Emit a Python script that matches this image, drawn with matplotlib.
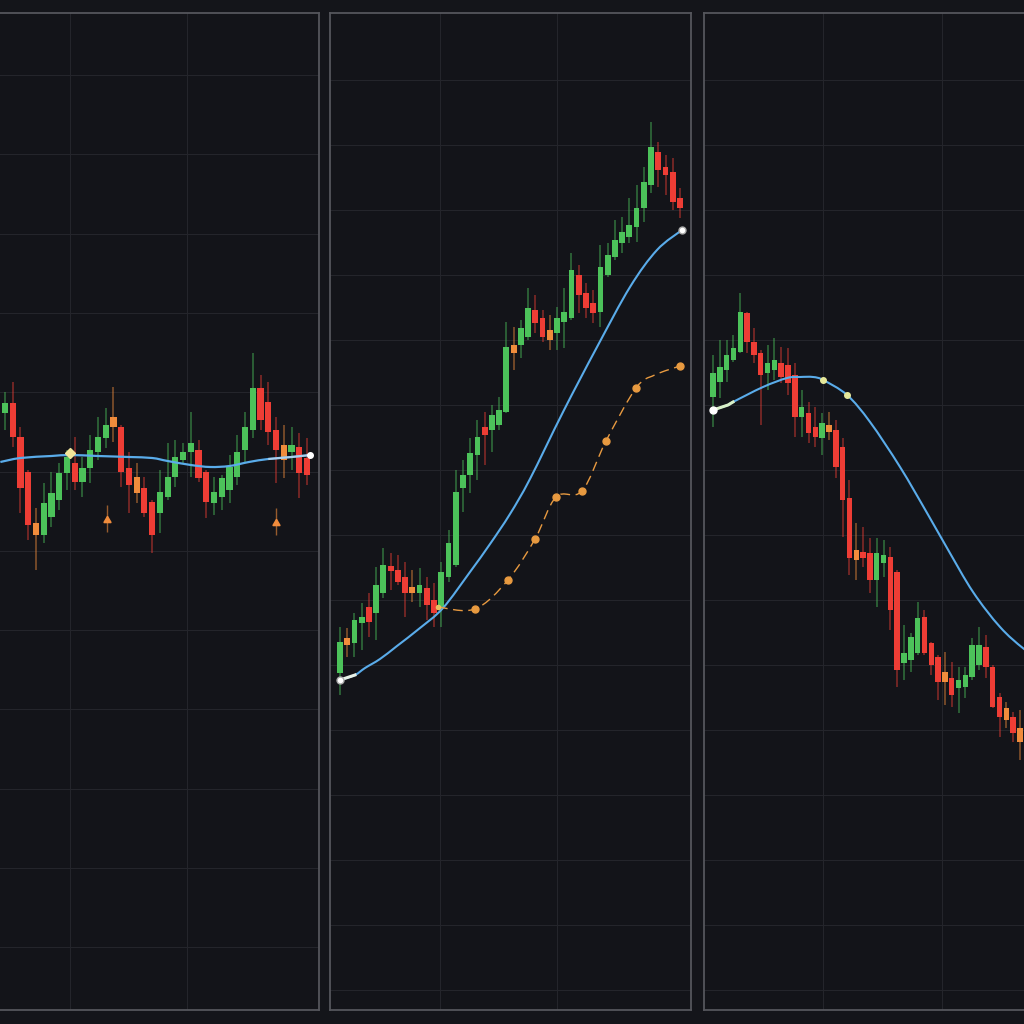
import matplotlib
matplotlib.use("Agg")
import matplotlib.pyplot as plt
from matplotlib.path import Path
from matplotlib.patches import PathPatch
import numpy as np

# ---- data (price units, candle index on x) ----
# panel 1 : sideways
p1_open  = [59.7, 60.7, 57.3, 53.8, 48.7, 47.5, 49.3, 51.0, 53.7, 54.7, 52.8, 54.2, 55.8, 57.2, 58.3, 58.3, 54.2, 53.3, 52.2, 50.8,
            49.7, 51.3, 53.3, 55.0, 55.8, 56.0, 53.8, 50.7, 51.3, 52.0, 53.3, 56.0, 58.0, 62.2, 60.8, 58.0, 56.5, 55.8, 56.3, 55.2]
p1_high  = [61.8, 62.8, 58.3, 54.0, 50.2, 52.7, 53.8, 54.7, 56.0, 57.3, 55.3, 57.5, 59.3, 60.2, 62.3, 58.5, 55.8, 54.7, 53.3, 51.0,
            54.0, 56.7, 57.0, 56.7, 59.8, 57.0, 54.0, 53.3, 53.5, 55.5, 57.5, 59.8, 65.7, 63.5, 62.8, 59.3, 58.5, 58.3, 57.7, 57.2]
p1_low   = [58.0, 56.3, 49.7, 47.0, 44.0, 46.7, 48.3, 50.0, 52.0, 52.0, 51.3, 52.7, 55.0, 56.2, 56.8, 52.3, 49.7, 50.7, 49.3, 45.7,
            47.7, 51.0, 52.3, 54.7, 53.3, 52.8, 49.2, 49.5, 50.0, 50.7, 52.5, 54.8, 57.2, 58.0, 56.5, 52.7, 53.2, 54.0, 51.2, 52.5]
p1_close = [60.7, 57.3, 52.2, 48.5, 47.5, 50.7, 51.7, 53.7, 55.3, 52.8, 54.2, 56.0, 57.3, 58.5, 59.3, 53.8, 52.5, 51.7, 49.7, 47.5,
            51.8, 53.3, 55.3, 55.8, 56.7, 53.2, 50.8, 51.8, 53.2, 54.3, 55.8, 58.3, 62.2, 59.0, 57.8, 56.0, 55.0, 56.5, 53.7, 53.5]
p1_neutral = [4, 14, 17, 36]
p1_ma_x = [-0.6, 2, 6, 8.4, 12, 16, 19, 21, 24, 26.5, 29, 31.5, 34, 37, 39.4]
p1_ma_y = [54.8, 55.2, 55.4, 55.5, 55.4, 55.3, 55.2, 54.9, 54.5, 54.3, 54.4, 54.8, 55.1, 55.3, 55.5]
p1_signal_x = [13.2, 35.0]
p1_signal_y = [49.0, 48.7]
p1_cross = (8.4, 55.7)

# panel 2 : uptrend
p2_open  = [33.7, 36.5, 36.7, 38.7, 40.3, 39.7, 41.7, 44.4, 44.0, 43.3, 41.7, 41.7, 42.2, 41.0, 40.3, 43.3, 44.5, 52.2, 53.5, 55.5,
            58.3, 58.0, 58.5, 59.8, 66.5, 66.5, 67.3, 70.0, 69.2, 68.0, 67.7, 68.8, 69.2, 73.5, 71.7, 70.7, 69.8, 73.5, 75.3, 76.7,
            77.3, 78.3, 80.2, 82.5, 85.8, 84.3, 83.8, 81.2]
p2_high  = [38.3, 38.2, 39.7, 40.7, 41.7, 44.3, 46.2, 45.7, 45.5, 44.8, 44.0, 44.2, 43.3, 42.7, 44.8, 48.0, 54.0, 55.0, 57.2, 59.0,
            59.8, 60.5, 61.3, 68.8, 68.3, 69.0, 72.2, 71.5, 70.0, 69.5, 70.3, 72.2, 75.7, 74.5, 72.7, 72.0, 76.5, 76.7, 79.0, 79.3,
            81.2, 82.5, 84.3, 88.8, 86.8, 85.5, 85.2, 82.2]
p2_low   = [31.5, 35.3, 35.3, 36.0, 37.3, 37.0, 41.2, 42.0, 42.5, 39.3, 40.8, 40.3, 39.0, 38.3, 38.3, 42.8, 44.3, 49.8, 51.7, 53.0,
            54.5, 55.8, 58.0, 59.7, 64.0, 65.2, 67.0, 67.7, 66.8, 66.0, 66.0, 66.2, 69.0, 69.7, 69.2, 68.7, 68.3, 73.3, 75.0, 75.7,
            76.7, 76.8, 78.8, 81.7, 82.3, 81.5, 80.0, 79.2]
p2_close = [36.8, 37.2, 39.0, 39.3, 38.8, 42.5, 44.5, 43.9, 42.8, 41.7, 42.3, 42.5, 40.5, 39.7, 43.8, 46.7, 51.8, 53.5, 55.7, 57.3,
            57.5, 59.5, 60.0, 66.3, 65.7, 68.2, 70.2, 68.7, 67.3, 67.0, 69.2, 69.8, 74.0, 71.5, 70.2, 69.7, 74.3, 75.5, 77.0, 77.8,
            78.5, 80.2, 82.8, 86.3, 84.0, 83.5, 80.8, 80.2]
p2_neutral = [1, 10, 24, 29]
p2_ma_x = [0, 2.07, 3.46, 5.53, 7.88, 11.06, 14.24, 17.97, 20.74, 23.5, 26.26, 30.83, 35.53, 40.09, 43.82, 47.28]
p2_ma_y = [33.0, 33.5, 34.2, 35.1, 36.4, 38.2, 40.2, 43.8, 46.6, 49.6, 53.1, 59.8, 66.3, 72.3, 76.0, 78.0]
p2_slow_x = [13.55, 18.66, 23.22, 26.96, 29.86, 33.45, 36.77, 40.92, 43.5, 47.0]
p2_slow_y = [40.3, 40.1, 43.0, 47.1, 51.3, 51.9, 56.9, 62.2, 63.5, 64.4]

# panel 3 : downtrend
p3_open  = [61.3, 62.8, 64.0, 65.0, 65.8, 69.7, 66.8, 65.7, 63.7, 64.0, 64.7, 64.5, 63.5, 59.3, 59.7, 58.3, 57.2, 58.5, 58.0, 56.3,
            51.2, 46.0, 45.8, 45.7, 43.0, 44.7, 45.3, 43.8, 34.7, 35.0, 35.7, 39.3, 36.7, 35.3, 33.8, 33.2, 32.2, 32.3, 33.3, 34.5,
            36.3, 34.3, 31.3, 30.2, 29.3, 28.2]
p3_high  = [65.5, 67.0, 67.0, 67.5, 71.7, 69.8, 68.2, 66.0, 66.5, 67.2, 66.3, 66.2, 64.7, 62.0, 60.8, 60.3, 59.7, 59.8, 59.0, 57.2,
            53.0, 48.7, 48.3, 47.2, 47.2, 47.0, 46.3, 44.0, 38.5, 37.7, 40.8, 40.0, 36.8, 35.5, 35.8, 34.8, 34.3, 34.3, 37.2, 38.3,
            37.5, 34.5, 31.7, 30.8, 29.8, 30.0]
p3_low   = [58.3, 61.2, 62.8, 64.8, 65.7, 65.7, 64.7, 58.5, 62.0, 63.0, 62.7, 61.5, 57.3, 57.3, 56.7, 56.3, 55.5, 57.0, 53.2, 47.3,
            43.5, 43.0, 44.3, 41.7, 40.3, 43.3, 38.0, 32.3, 33.0, 33.8, 35.5, 35.5, 33.5, 31.0, 30.5, 30.3, 29.7, 31.2, 33.0, 34.0,
            33.2, 30.2, 27.3, 28.2, 26.8, 25.0]
p3_close = [63.7, 64.3, 65.5, 66.2, 69.8, 66.8, 65.5, 63.5, 64.7, 65.0, 63.3, 62.7, 59.3, 60.3, 57.7, 57.3, 58.7, 57.8, 54.3, 51.0,
            45.2, 45.0, 45.2, 43.0, 45.7, 45.5, 40.0, 34.0, 35.7, 37.3, 39.2, 35.7, 34.5, 32.8, 32.8, 31.5, 33.0, 33.5, 36.5, 36.5,
            34.3, 30.3, 29.3, 29.0, 27.7, 26.8]
p3_neutral = [17, 21, 34, 43, 45]
p3_ma_x = [0, 2.2, 2.93, 7.33, 10.85, 12.76, 14.66, 16.13, 19.65, 23.02, 27.42, 31.38, 34.31, 38.12, 42.08, 45.6, 49.4]
p3_ma_y = [60.0, 60.5, 60.8, 62.3, 63.2, 63.3, 63.3, 63.0, 61.5, 58.8, 54.3, 49.7, 46.2, 41.8, 38.3, 36.1, 34.3]
p3_ticks = [16.13, 19.65]

BG = "#14151a"
GREEN = "#4cc25a"
RED = "#ee3d35"
ORANGE = "#f08c3c"
BLUE = "#5aacea"
SLOW = "#e89a40"


def candles(ax, o, h, l, c, neutral):
    o, h, l, c = map(np.asarray, (o, h, l, c))
    x = np.arange(len(o))
    cols = np.where(c >= o, GREEN, RED).astype(object)
    for i in neutral:
        cols[i] = ORANGE
    ax.vlines(x, l, h, colors=list(cols), lw=1.2, alpha=0.5, zorder=2)
    ax.bar(x, np.abs(c - o), bottom=np.minimum(o, c), width=0.8, color=list(cols), zorder=3)


def smooth(ax, x, y, **kw):
    # catmull-rom through the read points, drawn as bezier path
    p = np.column_stack([x, y]).astype(float)
    ext = np.vstack([p[0], p, p[-1]])
    verts = [p[0]]
    codes = [Path.MOVETO]
    for i in range(len(p) - 1):
        p0, p1, p2, p3 = ext[i], ext[i + 1], ext[i + 2], ext[i + 3]
        verts += [p1 + (p2 - p0) / 6, p2 - (p3 - p1) / 6, p2]
        codes += [Path.CURVE4] * 3
    ax.add_patch(PathPatch(Path(verts, codes), fill=False, **kw))


def style(ax, xlim, xgrid, ygrid):
    ax.set_facecolor("#131419")
    ax.set_xlim(*xlim)
    ax.set_ylim(0.0, 99.7)
    ax.set_xticks(xgrid)
    ax.set_yticks(ygrid)
    ax.grid(True, color="#24252b", lw=0.8)
    ax.tick_params(length=0, labelbottom=False, labelleft=False)
    for s in ax.spines.values():
        s.set_color("#55565c")
        s.set_linewidth(1.3)
    ax.set_axisbelow(True)


fig = plt.figure(figsize=(10.24, 10.24), dpi=100, facecolor=BG)
bot, hgt = 14 / 1024, 997 / 1024
ax1 = fig.add_axes([-42 / 1024, bot, 361 / 1024, hgt])
ax2 = fig.add_axes([330 / 1024, bot, 361 / 1024, hgt])
ax3 = fig.add_axes([704 / 1024, bot, 361 / 1024, hgt])

grid_y = np.arange(2.0, 95, 6.5)
grid_y1 = 101 - (75 + 79.3 * np.arange(12)) / 10

# panel 1
style(ax1, (-6.07, 40.55), [8.39, 23.5], grid_y1)
candles(ax1, p1_open, p1_high, p1_low, p1_close, p1_neutral)
smooth(ax1, p1_ma_x, p1_ma_y, ec=BLUE, lw=1.6, zorder=4)
smooth(ax1, p1_ma_x[-3:], p1_ma_y[-3:], ec="#dfe9f5", lw=1.6, alpha=0.6, zorder=4)
ax1.plot(p1_ma_x[-1], p1_ma_y[-1], "o", color="white", ms=4, zorder=5)
ax1.plot(*p1_cross, "D", color="#f3e59a", ms=5, zorder=5)
ax1.plot(p1_signal_x, p1_signal_y, marker=(3, 0, 0), ls="none", color=ORANGE, ms=6, zorder=5)
ax1.vlines(p1_signal_x, np.array(p1_signal_y) - 1.2, np.array(p1_signal_y) + 1.5, color=ORANGE, lw=1, alpha=0.6)

# panel 2
style(ax2, (-1.38, 48.52), [13.82, 30.0], grid_y)
candles(ax2, p2_open, p2_high, p2_low, p2_close, p2_neutral)
smooth(ax2, p2_ma_x, p2_ma_y, ec=BLUE, lw=1.5, zorder=4)
ax2.plot(p2_ma_x[:2], p2_ma_y[:2], color="#e8f2e8", lw=2.2, zorder=5)
smooth(ax2, p2_slow_x, p2_slow_y, ec=SLOW, lw=1.0, ls=(0, (7, 4)), zorder=4)
ax2.plot(p2_slow_x[1:8] + p2_slow_x[9:], p2_slow_y[1:8] + p2_slow_y[9:], "o", color=SLOW, ms=5, zorder=5)
ax2.plot(p2_slow_x[0], p2_slow_y[0], "o", color="#e8c060", ms=3, zorder=5)
ax2.plot([p2_ma_x[0], p2_ma_x[-1]], [p2_ma_y[0], p2_ma_y[-1]], "o", ls="none",
         color="white", mec="#aaaaaa", ms=5, zorder=6)

# panel 3
style(ax3, (-1.32, 51.6), [16.13, 33.58], grid_y)
candles(ax3, p3_open, p3_high, p3_low, p3_close, p3_neutral)
smooth(ax3, p3_ma_x, p3_ma_y, ec=BLUE, lw=1.5, zorder=4)
ax3.plot(p3_ma_x[:3], p3_ma_y[:3], color="#d8f0c8", lw=2.2, zorder=5)
ax3.plot(p3_ma_x[0], p3_ma_y[0], "o", color="white", ms=5, zorder=6)
ax3.plot(p3_ticks, np.interp(p3_ticks, p3_ma_x, p3_ma_y), "o", color="#e6e89a", ms=4, zorder=5)

fig.savefig("out.png", dpi=100, facecolor=BG)
